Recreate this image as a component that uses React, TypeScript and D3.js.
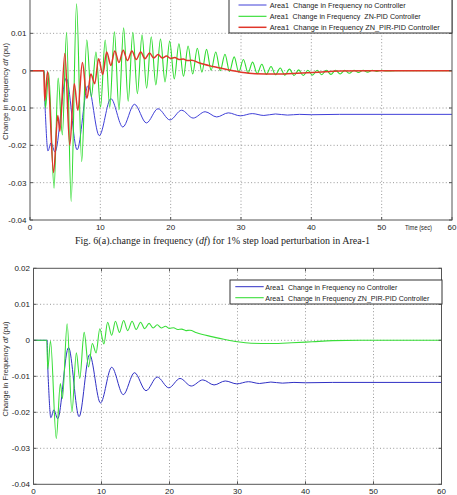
import React, { useEffect, useRef } from 'react';
import * as d3 from 'd3';

type Pt = [number, number];

// Turning points of each Area-1 response: [time (s), df (pu)]
const noControllerDf: Pt[] = [
  [0, 0], [2.0, 0], [2.08, -0.006], [2.25, -0.014], [2.55, -0.0215], [3.0, -0.0193], [3.55, -0.0218],
  [5.15, -0.002], [6.7, -0.0212], [8.25, -0.004], [9.85, -0.0174], [11.5, -0.0075], [13.2, -0.0151],
  [14.85, -0.009], [16.55, -0.014], [18.2, -0.0102], [19.9, -0.0132], [21.55, -0.0106], [23.2, -0.0127],
  [24.9, -0.011], [26.55, -0.0124], [28.2, -0.0113], [29.9, -0.0121], [31.6, -0.0115], [33.25, -0.012],
  [34.9, -0.0116], [36.6, -0.0119], [38.3, -0.0117], [40, -0.0118], [44, -0.0117], [60, -0.0117],
];

const znPidDf: Pt[] = [
  [0, 0], [2.0, 0], [2.2, -0.01], [2.65, -0.0005], [3.42, -0.0315], [4.0, -0.002], [4.6, -0.0172],
  [5.2, 0.0103], [5.85, -0.035], [6.62, 0.0179], [7.35, -0.0244], [8.07, 0.0083], [8.72, -0.007],
  [9.38, 0.005], [10.03, -0.0098], [10.69, 0.0082], [11.34, -0.0098], [12.0, 0.0104], [12.65, -0.0105],
  [13.31, 0.0115], [13.96, -0.0082], [14.62, 0.0103], [15.27, -0.0062], [15.93, 0.0096], [16.58, -0.0047],
  [17.24, 0.0091], [17.89, -0.0038], [18.55, 0.0085], [19.2, -0.003], [19.86, 0.0079], [20.51, -0.0022],
  [21.17, 0.0072], [21.82, -0.0015], [22.48, 0.0066], [23.13, -0.0009], [23.79, 0.006], [24.44, -0.0004],
  [25.1, 0.0057], [25.75, 0.0001], [26.41, 0.005], [27.06, 0.0], [27.72, 0.0044], [28.37, -0.0002],
  [29.03, 0.0037], [29.68, -0.0004], [30.34, 0.003], [31.0, -0.0006], [31.65, 0.0023], [32.3, -0.0008],
  [32.96, 0.0017], [33.6, -0.001], [34.27, 0.0011], [34.9, -0.0011], [35.58, 0.0007], [36.23, -0.0012],
  [36.89, 0.0004], [37.54, -0.0013], [38.2, 0.0002], [38.85, -0.0013], [39.51, 0.0001], [40.16, -0.0012],
  [40.82, 0.0001], [41.47, -0.0011], [42.13, 0.0001], [42.78, -0.001], [43.44, 0.0001], [44.1, -0.0009],
  [44.75, 0.0001], [45.4, -0.0007], [46.06, 0.0001], [46.7, -0.0005], [47.37, 0.0001], [48.0, -0.0004],
  [48.68, 0.0001], [49.3, -0.0002], [50.0, 0.0001], [50.6, -0.0001], [52, 0], [60, 0],
];

const znPirPidDf: Pt[] = [
  [0, 0], [1.95, 0], [2.1, -0.008], [2.5, -0.0002], [3.35, -0.0273], [3.95, -0.012], [4.25, -0.0162],
  [4.95, 0.0046], [5.65, -0.0199], [6.3, -0.0035], [6.8, -0.0106], [7.45, 0.0022], [8.1, -0.0074],
  [8.65, -0.0009], [9.2, -0.0035], [9.75, 0.0032], [10.35, -0.001], [10.9, 0.005], [11.5, 0.0014],
  [12.05, 0.0053], [12.65, 0.0022], [13.25, 0.0055], [13.85, 0.0027], [14.5, 0.0053], [15.1, 0.003],
  [15.75, 0.005], [16.35, 0.0032], [17.0, 0.0047], [17.6, 0.0034], [18.2, 0.0043], [18.8, 0.0034],
  [19.4, 0.0039], [20.0, 0.0033], [20.6, 0.0035], [21.2, 0.003], [21.8, 0.0031], [22.4, 0.0027],
  [23.0, 0.0028], [24, 0.0021], [26, 0.0011], [28, 0.0003], [30, -0.0004], [32, -0.0008], [35, -0.0009],
  [38, -0.0007], [41, -0.0004], [44, -0.0001], [48, 0], [60, 0],
];

const timeTicks = [0, 10, 20, 30, 40, 50, 60];
const dfTicks = [0.02, 0.01, 0, -0.01, -0.02, -0.03, -0.04];

const topLegend = [
  'Area1  Change in Frequency no Controller',
  'Area1  Change in Frequency  ZN-PID Controller',
  'Area1  Change in Frequency ZN_PIR-PID Controller',
];
const bottomLegend = [
  'Area1  Change in Frequency no Controller',
  'Area1  Change in Frequency ZN_PIR-PID Controller',
];

const caption = ['Fig. 6(a).change in frequency (', 'df', ') for 1% step load perturbation in Area-1'];

interface Series { data: Pt[]; color: string; width: number; }
interface Panel {
  id: string;
  left: number; right: number; top: number; bottom: number;
  series: Series[];
  legend: { labels: string[]; box: [number, number, number, number]; rowY: number[]; lineX: [number, number]; textX: number; textLen: number[] };
  yLabel: { text: string; cx: number; cy: number; len: number };
  timeLabel?: boolean;
}

const TICK_FONT = 'Liberation Sans, Arial, sans-serif';

const panels: Panel[] = [
  {
    id: 'a',
    left: 30, right: 452, top: -4, bottom: 220,
    series: [
      { data: noControllerDf, color: '#4040d8', width: 1 },
      { data: znPidDf, color: '#2edc2e', width: 1.1 },
      { data: znPirPidDf, color: '#e0362a', width: 1.5 },
    ],
    legend: {
      labels: topLegend,
      box: [229, -3, 452, 33],
      rowY: [5, 16.3, 27.3],
      lineX: [238.5, 266.5],
      textX: 269.7,
      textLen: [136, 151, 170],
    },
    yLabel: { text: 'Change in frequency ', cx: 5, cy: 91.5, len: 97 },
    timeLabel: true,
  },
  {
    id: 'b',
    left: 33.5, right: 441.5, top: 268.3, bottom: 484.3,
    series: [
      { data: noControllerDf, color: '#3030c4', width: 1 },
      { data: znPirPidDf, color: '#3ade3a', width: 1.1 },
    ],
    legend: {
      labels: bottomLegend,
      box: [230, 280, 442, 304],
      rowY: [286.7, 297.7],
      lineX: [235.3, 263.7],
      textX: 265.3,
      textLen: [132, 164],
    },
    yLabel: { text: 'Change in Frequency ', cx: 5, cy: 369, len: 95 },
  },
];

function drawPanel(svg: d3.Selection<SVGSVGElement, unknown, null, undefined>, p: Panel) {
  const x = d3.scaleLinear().domain([0, 60]).range([p.left, p.right]);
  const y = d3.scaleLinear().domain([-0.04, 0.02]).range([p.bottom, p.top]);
  const g = svg.append('g');
  const clipId = `plot-clip-${p.id}`;

  g.append('clipPath').attr('id', clipId)
    .append('rect')
    .attr('x', p.left).attr('y', p.top)
    .attr('width', p.right - p.left).attr('height', p.bottom - p.top);

  // dotted grid
  g.selectAll('.vgrid')
    .data(timeTicks.filter(t => t > 0 && t < 60))
    .enter().append('line')
    .attr('x1', d => x(d)).attr('x2', d => x(d))
    .attr('y1', p.top).attr('y2', p.bottom)
    .attr('stroke', '#8c8c8c').attr('stroke-width', 0.9).attr('stroke-dasharray', '1,2.3');
  g.selectAll('.hgrid')
    .data(dfTicks.filter(v => v > -0.04 && v < 0.02))
    .enter().append('line')
    .attr('x1', p.left).attr('x2', p.right)
    .attr('y1', d => y(d)).attr('y2', d => y(d))
    .attr('stroke', '#8c8c8c').attr('stroke-width', 0.9).attr('stroke-dasharray', '1,2.3');

  const line = d3.line<Pt>()
    .x(d => x(d[0]))
    .y(d => y(d[1]))
    .curve(d3.curveMonotoneX);

  p.series.forEach(s => {
    g.append('path')
      .attr('d', line(s.data) || '')
      .attr('fill', 'none')
      .attr('stroke', s.color)
      .attr('stroke-width', s.width)
      .attr('stroke-linejoin', 'round')
      .attr('clip-path', `url(#${clipId})`);
  });

  // axes box with inward ticks
  g.append('rect')
    .attr('x', p.left).attr('y', p.top)
    .attr('width', p.right - p.left).attr('height', p.bottom - p.top)
    .attr('fill', 'none').attr('stroke', '#555').attr('stroke-width', 1);

  timeTicks.forEach(t => {
    g.append('line').attr('x1', x(t)).attr('x2', x(t)).attr('y1', p.bottom).attr('y2', p.bottom - 3).attr('stroke', '#555');
    g.append('line').attr('x1', x(t)).attr('x2', x(t)).attr('y1', p.top).attr('y2', p.top + 3).attr('stroke', '#555');
  });
  dfTicks.forEach(v => {
    g.append('line').attr('x1', p.left).attr('x2', p.left + 3).attr('y1', y(v)).attr('y2', y(v)).attr('stroke', '#555');
    g.append('line').attr('x1', p.right).attr('x2', p.right - 3).attr('y1', y(v)).attr('y2', y(v)).attr('stroke', '#555');
  });

  g.selectAll('.xtick')
    .data(timeTicks)
    .enter().append('text')
    .attr('x', d => x(d)).attr('y', p.bottom + 9.5)
    .attr('text-anchor', 'middle')
    .attr('font-family', TICK_FONT).attr('font-size', 8).attr('fill', '#222')
    .text(d => String(d));

  // labels above the page edge are left out
  g.selectAll('.ytick')
    .data(dfTicks.filter(v => y(v) > 4))
    .enter().append('text')
    .attr('x', p.left - 3.5).attr('y', d => y(d) + 3)
    .attr('text-anchor', 'end')
    .attr('font-family', TICK_FONT).attr('font-size', 8).attr('fill', '#222')
    .text(d => String(d));

  if (p.timeLabel) {
    g.append('text')
      .attr('x', 405).attr('y', p.bottom + 9.5)
      .attr('font-family', TICK_FONT).attr('font-size', 8).attr('fill', '#222')
      .attr('textLength', 27).attr('lengthAdjust', 'spacingAndGlyphs')
      .text('Time (sec)');
  }

  // y-axis title
  const yt = g.append('text')
    .attr('transform', `translate(${p.yLabel.cx + 3},${p.yLabel.cy}) rotate(-90)`)
    .attr('text-anchor', 'middle')
    .attr('font-family', TICK_FONT).attr('font-size', 7.5).attr('fill', '#333')
    .attr('textLength', p.yLabel.len).attr('lengthAdjust', 'spacingAndGlyphs');
  yt.append('tspan').text(p.yLabel.text);
  yt.append('tspan').attr('font-style', 'italic').text('df');
  yt.append('tspan').text(' (pu)');

  // legend
  const lg = p.legend;
  g.append('rect')
    .attr('x', lg.box[0]).attr('y', lg.box[1])
    .attr('width', lg.box[2] - lg.box[0]).attr('height', lg.box[3] - lg.box[1])
    .attr('fill', '#fff').attr('stroke', '#333').attr('stroke-width', 1);
  lg.labels.forEach((label, i) => {
    const s = p.series[i];
    g.append('line')
      .attr('x1', lg.lineX[0]).attr('x2', lg.lineX[1])
      .attr('y1', lg.rowY[i]).attr('y2', lg.rowY[i])
      .attr('stroke', s.color).attr('stroke-width', s.width);
    g.append('text')
      .attr('x', lg.textX).attr('y', lg.rowY[i] + 2.8)
      .attr('font-family', TICK_FONT).attr('font-size', 8).attr('fill', '#222')
      .attr('textLength', lg.textLen[i]).attr('lengthAdjust', 'spacingAndGlyphs')
      .attr('xml:space', 'preserve')
      .text(label);
  });
}

export default function App() {
  const svgRef = useRef<SVGSVGElement>(null);

  useEffect(() => {
    if (!svgRef.current) return;
    const svg = d3.select(svgRef.current);
    svg.selectAll('*').remove();

    panels.forEach(p => drawPanel(svg, p));

    const cap = svg.append('text')
      .attr('x', 222.5).attr('y', 244)
      .attr('text-anchor', 'middle')
      .attr('font-family', 'Liberation Serif, Times New Roman, serif')
      .attr('font-size', 10).attr('fill', '#222')
      .attr('textLength', 295).attr('lengthAdjust', 'spacingAndGlyphs');
    cap.append('tspan').text(caption[0]);
    cap.append('tspan').attr('font-style', 'italic').text(caption[1]);
    cap.append('tspan').text(caption[2]);
  }, []);

  return (
    <div style={{ position: 'absolute', left: 0, top: 0 }}>
      <svg ref={svgRef} width={457} height={495} style={{ display: 'block', background: '#fff' }} />
    </div>
  );
}
